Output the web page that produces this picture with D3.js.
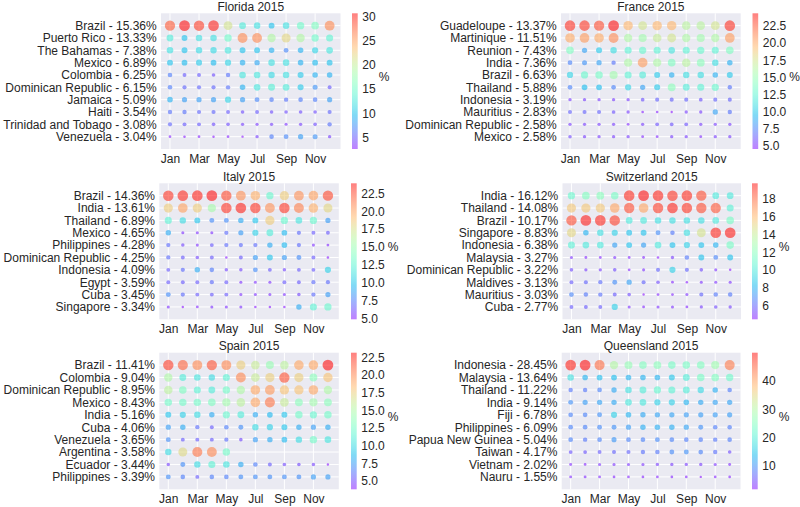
<!DOCTYPE html>
<html><head><meta charset="utf-8">
<script src="https://cdn.jsdelivr.net/npm/d3@7"></script>
<style>
body{margin:0;background:#fff}
text{font-family:"Liberation Sans",Arial,sans-serif;fill:#262626;font-size:12px}
</style>
</head><body>
<svg id="c" width="800" height="507"></svg>
<script>
// ---------- DATA ----------
const months = [1,2,3,4,5,6,7,8,9,10,11,12];
const monthTickValues = [1,3,5,7,9,11];
const monthTickLabels = ["Jan","Mar","May","Jul","Sep","Nov"];

const floridaLabels = ["Brazil - 15.36%","Puerto Rico - 13.33%","The Bahamas - 7.38%","Mexico - 6.89%","Colombia - 6.25%","Dominican Republic - 6.15%","Jamaica - 5.09%","Haiti - 3.54%","Trinidad and Tobago - 3.08%","Venezuela - 3.04%"];
const floridaValues = [
  [28,30.7,29,30,21,13,12,10,12,15,16,26],
  [13,10,12,12,15,26,26,19,22,19,15,14],
  [12,10,11.5,11.5,12.5,10,10,9,7,9,11,12.5],
  [10,9.5,10.5,9.5,11,9,8.5,12,12,9,9.5,10],
  [6.5,5,5,4.5,6,12.5,12.5,11.5,12,10.5,9,9],
  [6.5,5.5,5.5,5.5,6,9,12.5,13.5,13,10.5,7.5,5],
  [9,8,8,8,11,8,7,6.5,6,6.5,6.5,8],
  [6,6,5.5,5.5,5,4.5,5,4.5,4.5,4.5,4.5,5.5],
  [5.5,5,5,4.5,4.5,4,3.8,4,3.5,4,4.5,6],
  [3,2.8,3,2.7,3,2.6,4,6.5,7,8,7.5,4]
];
const floridaTicks = [5,10,15,20,25,30];

const franceLabels = ["Guadeloupe - 13.37%","Martinique - 11.51%","Reunion - 7.43%","India - 7.36%","Brazil - 6.63%","Thailand - 5.88%","Indonesia - 3.19%","Mauritius - 2.83%","Dominican Republic - 2.58%","Mexico - 2.58%"];
const franceValues = [
  [23.5,23.3,22.8,24.35,19.5,17.5,19.5,19.5,16.5,16.5,17.5,23.5],
  [20,20.5,20,21,16,15.5,17,17.5,16,15.5,16,20.5],
  [14,8.5,10,11,12.5,13,12.5,11.5,12.5,13,12.5,14],
  [7.5,8,8.5,7,16,20.5,16,14,16.5,14.5,11,9],
  [10.5,13,13.5,15.5,12.5,12,10,9,11,11,9,10],
  [7.5,9.5,9.5,7.5,10.5,8.5,10,14.5,12,12.5,13,7],
  [5.5,5.5,5.5,5.5,5.5,6,6.5,6.5,6.5,6,6.5,6.5],
  [6.5,6.5,6.5,6,5.5,4.8,4.8,4.56,5.5,5.5,8.5,7],
  [5.5,5.5,5.5,5.5,5,5.5,6,6,6,5.5,5.5,5.5],
  [5.8,5.5,5.5,5.5,5.5,5,5,5.5,5.5,5,5.5,5.5]
];
const franceTicks = [5,7.5,10,12.5,15,17.5,20,22.5];

const italyLabels = ["Brazil - 14.36%","India - 13.61%","Thailand - 6.89%","Mexico - 4.65%","Philippines - 4.28%","Dominican Republic - 4.25%","Indonesia - 4.09%","Egypt - 3.59%","Cuba - 3.45%","Singapore - 3.34%"];
const italyValues = [
  [23,23.3,23.5,23.9,22.5,20.5,19.5,13,18.5,20.5,20,22.5],
  [18.5,20,18.5,15.5,23,23.5,23,20.5,23,21,19.5,18],
  [12.5,11,10,8,8,9,10,18.5,13,11.5,13,8.5],
  [9,5.5,5.5,5.5,7,8.5,10.5,12,9.5,7,6.5,6.5],
  [7,6,5.5,6.5,7,7,7,9,9.5,7,5.5,5.3],
  [7,6.5,6,6.5,5,6.5,8.5,10,8.5,8,6.5,5],
  [6.5,7,9,7.5,6,6,8,6.5,6,6.5,6.5,10.5],
  [6.5,6.5,6.5,7,6.5,5.5,5.5,5.5,6.5,6.5,7,7],
  [8,7,6.5,6.5,6.5,5.5,5.5,5.5,5.5,6,7,8.5],
  [5.5,4.9,5.3,5.5,5.5,5.5,5,5,5,9,12.5,13]
];
const italyTicks = [5,7.5,10,12.5,15,17.5,20,22.5];

const switzerlandLabels = ["India - 16.12%","Thailand - 14.08%","Brazil - 10.17%","Singapore - 8.83%","Indonesia - 6.38%","Malaysia - 3.27%","Dominican Republic - 3.22%","Maldives - 3.13%","Mauritius - 3.03%","Cuba - 2.77%"];
const switzerlandValues = [
  [11,11.8,12,11.5,19.2,19.7,19.3,19,19.2,18.5,10,10],
  [15.5,15.5,15.5,16.5,18.5,16.5,18.8,19.3,19,18.5,18.3,10.5],
  [18.5,19.5,19.3,18.8,10,10,9.5,9.5,9.5,9.5,10,11.5],
  [15,8,9.5,9,8.5,8.5,7,6.5,9.5,14.5,19.3,19.5],
  [10.5,10,10,7.5,8.5,7.5,10,8.5,9,8.5,8,11.5],
  [5,4.8,4.8,5,4.8,4.8,4.6,5.2,6.5,8.5,6.8,8.5],
  [5.5,5.2,5.2,5.5,4.8,5,6,9,6,5.5,5,4.6],
  [5.8,6,6.2,7,7.5,6,5.5,4.8,4.6,5,5,5],
  [6.8,6.5,6.3,5.8,5.5,4.5,4.8,4.8,5,6,6.5,6.5],
  [5.8,5.8,5.8,9,5,4.8,5,5,4.8,5.2,5.5,5.3]
];
const switzerlandTicks = [6,8,10,12,14,16,18];

const spainLabels = ["Brazil - 11.41%","Colombia - 9.04%","Dominican Republic - 8.95%","Mexico - 8.43%","India - 5.16%","Cuba - 4.06%","Venezuela - 3.65%","Argentina - 3.58%","Ecuador - 3.44%","Philippines - 3.39%"];
const spainValues = [
  [22,21,20,21.5,20,17.5,16,14,15.5,19,19,23.15],
  [15,11,10.5,10,11.5,20,16,17.5,21.5,17.5,13.5,18],
  [15.5,13,11.5,11,12.5,15,19,19.5,18,18,19,15],
  [12.5,12.5,12.5,13,14.5,15.5,19,20.5,16,13.5,14.5,13.5],
  [9,9.5,10,8,12,11,8,8.5,9,12.5,12,12.5],
  [7.5,8,6,5.5,6.5,7,10,9.5,9,8,7.5,8],
  [7,5.5,5.5,5.5,6,5,7.5,8,8.5,10,12.5,10.5],
  [10,17,20.5,20,12.5,null,null,null,null,null,null,null],
  [4.8,7,10,11.5,10.5,8,6.5,5.5,5,5,4.8,3.8],
  [7,6.5,5.5,6.5,6.5,7,7,7,7,7,7.5,7.5]
];
const spainTicks = [5,7.5,10,12.5,15,17.5,20,22.5];

const queenslandLabels = ["Indonesia - 28.45%","Malaysia - 13.64%","Thailand - 11.22%","India - 9.14%","Fiji - 6.78%","Philippines - 6.09%","Papua New Guinea - 5.04%","Taiwan - 4.17%","Vietnam - 2.02%","Nauru - 1.55%"];
const queenslandValues = [
  [49,50,44,30,27,25,26,24,24,25,28,43],
  [18,13,14,14,13,13,13,15,20,24,25,23],
  [8,8,9,12,18,20,22,21,20,17,12.5,8.5],
  [10,11,11.5,12,19,19,16,16,13,12,11.5,11.5],
  [9,9,10,16,13,12,11.5,11.5,11,11,11,11],
  [9,9,9.5,10,11,12.5,12.5,12.5,11.5,10,8.5,8.5],
  [9,8,9,10.5,9,9,9.5,9,8.5,8.5,8,8.5],
  [5.5,5.5,6,6.5,6.5,7.5,8,9.5,10,9,7.5,5],
  [3,2.5,3.5,3.5,3.5,3.5,4,4,4,4,3.5,3],
  [3,3,3,2.5,2.5,2.5,2.5,2.5,2.5,1.8,2.5,2.5]
];
const queenslandTicks = [10,20,30,40];

// ---------- LAYOUT ----------
const panels = [
  {title:"Florida 2015", labels:floridaLabels, values:floridaValues, ticks:floridaTicks, fmt:d3.format("d"),
   x0:161, x1:340.5, y0:13.3, y1:149, cb:352},
  {title:"France 2015", labels:franceLabels, values:franceValues, ticks:franceTicks, fmt:d3.format(".1f"),
   x0:561, x1:740.7, y0:13.3, y1:149, cb:752.5},
  {title:"Italy 2015", labels:italyLabels, values:italyValues, ticks:italyTicks, fmt:d3.format(".1f"),
   x0:159.3, x1:338.8, y0:183.3, y1:319.3, cb:351},
  {title:"Switzerland 2015", labels:switzerlandLabels, values:switzerlandValues, ticks:switzerlandTicks, fmt:d3.format("d"),
   x0:562.5, x1:741, y0:183.3, y1:319.3, cb:752},
  {title:"Spain 2015", labels:spainLabels, values:spainValues, ticks:spainTicks, fmt:d3.format(".1f"),
   x0:159.3, x1:338.8, y0:352.7, y1:489.3, cb:351},
  {title:"Queensland 2015", labels:queenslandLabels, values:queenslandValues, ticks:queenslandTicks, fmt:d3.format("d"),
   x0:561.7, x1:740.5, y0:352.7, y1:489.3, cb:752}
];
const cbW = 5.7;

// matplotlib "rainbow" colormap
function rainbow(t){
  t = Math.max(0, Math.min(1, t));
  const r = Math.min(1, Math.abs(2*t - 0.5));
  const g = Math.sin(Math.PI*t);
  const b = Math.cos(Math.PI*t/2);
  return d3.rgb(r*255, g*255, b*255).formatHex();
}

const svg = d3.select("#c");
const defs = svg.append("defs");

panels.forEach((p, pi) => {
  const flat = p.values.flat().filter(v => v != null);
  const ext = d3.extent(flat);
  const x = d3.scaleLinear().domain([0.38, 12.75]).range([p.x0, p.x1]);
  const y = d3.scaleLinear().domain([-1, 10]).range([p.y0, p.y1]);
  const color = d3.scaleSequential(rainbow).domain(ext);
  const rad = d3.scaleRadial().domain(ext).range([1.2, 5.4]);

  const g = svg.append("g");
  g.append("rect").attr("x", p.x0).attr("y", p.y0)
    .attr("width", p.x1 - p.x0).attr("height", p.y1 - p.y0).attr("fill", "#EAEAF2");
  g.selectAll(".gy").data(d3.range(10)).join("line")
    .attr("x1", p.x0).attr("x2", p.x1).attr("y1", d => y(d)).attr("y2", d => y(d))
    .attr("stroke", "#fff").attr("stroke-width", 1);
  g.selectAll(".gx").data(monthTickValues).join("line")
    .attr("x1", d => x(d)).attr("x2", d => x(d)).attr("y1", p.y0).attr("y2", p.y1)
    .attr("stroke", "#fff").attr("stroke-width", 1);

  const pts = [];
  p.values.forEach((row, ri) => row.forEach((v, mi) => { if (v != null) pts.push({ri, m: months[mi], v}); }));
  g.selectAll("circle.d").data(pts).join("circle")
    .attr("cx", d => x(d.m)).attr("cy", d => y(d.ri))
    .attr("r", d => rad(d.v))
    .attr("fill", d => color(d.v)).attr("fill-opacity", 0.56);

  const xa = g.append("g").attr("transform", `translate(0,${p.y1})`)
    .call(d3.axisBottom(x).tickValues(monthTickValues)
      .tickFormat((d, i) => monthTickLabels[i]).tickSize(0).tickPadding(5));
  xa.select(".domain").remove();
  const ya = g.append("g").attr("transform", `translate(${p.x0},0)`)
    .call(d3.axisLeft(y).tickValues(d3.range(10))
      .tickFormat(d => p.labels[d]).tickSize(0).tickPadding(4.3));
  ya.select(".domain").remove();
  g.selectAll(".tick text").attr("font-size", 12).attr("font-family", null).attr("fill", "#262626");

  g.append("text").attr("x", (p.x0 + p.x1) / 2).attr("y", p.y0 - 2.3)
    .attr("text-anchor", "middle").text(p.title);

  const gid = "grad" + pi;
  const grad = defs.append("linearGradient").attr("id", gid)
    .attr("x1", 0).attr("y1", 1).attr("x2", 0).attr("y2", 0);
  d3.range(0, 1.0001, 0.05).forEach(t => {
    grad.append("stop").attr("offset", t).attr("stop-color", rainbow(t)).attr("stop-opacity", 0.5);
  });
  g.append("rect").attr("x", p.cb).attr("y", p.y0).attr("width", cbW)
    .attr("height", p.y1 - p.y0).attr("fill", `url(#${gid})`);
  const cy = d3.scaleLinear().domain(ext).range([p.y1, p.y0]);
  const ca = g.append("g").attr("transform", `translate(${p.cb + cbW},0)`)
    .call(d3.axisRight(cy).tickValues(p.ticks).tickFormat(p.fmt).tickSize(0).tickPadding(4.6));
  ca.select(".domain").remove();
  ca.selectAll("text").attr("font-size", 12).attr("font-family", null).attr("fill", "#262626");
  let maxW = 0;
  ca.selectAll("text").each(function(){ maxW = Math.max(maxW, this.getComputedTextLength()); });
  g.append("text").attr("x", p.cb + cbW + 4.6 + maxW + 3)
    .attr("y", (p.y0 + p.y1) / 2 - 4).attr("dominant-baseline", "central").text("%");
});
</script>
</body></html>
